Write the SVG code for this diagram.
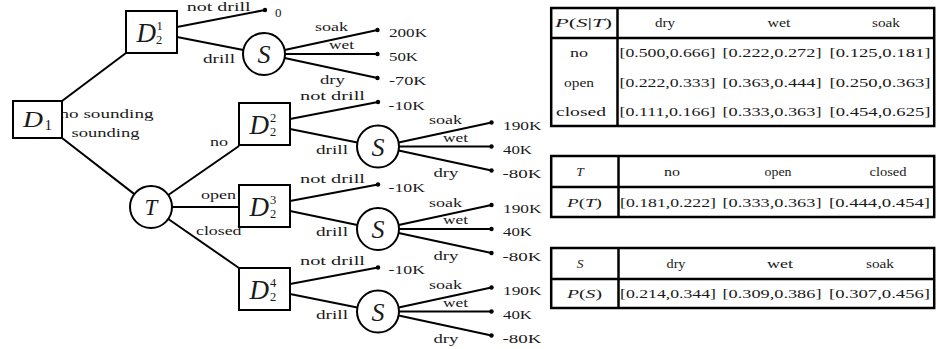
<svg xmlns="http://www.w3.org/2000/svg" width="937" height="349" viewBox="0 0 937 349">
<style>
text { font-family: "Liberation Serif", "Times New Roman", serif; fill: #1a1a1a; }
.lb { font-size: 13px; }
.tb { font-size: 13.5px; }
.m { font-style: italic; }
.big { font-size: 23px; font-style: italic; }
.dd { font-size: 27px; font-style: italic; }
.ss { font-size: 26px; font-style: italic; }
.sup { font-size: 12.5px; }
.box { fill: #fff; stroke: #000; stroke-width: 2; }
.circ { fill: #fff; stroke: #000; stroke-width: 2; }
.edge { stroke: #000; stroke-width: 2; fill: none; }
.dot { fill: #000; }
.tbl { fill: none; stroke: #000; stroke-width: 2.5; }
</style>

<g id="connectors">
  <path class="edge" d="M62,101 L126,53"/>
  <path class="edge" d="M62,138 L134.4,194.1"/>
  <path class="edge" d="M168.3,195 L239,146"/>
  <path class="edge" d="M172,207 L239,207"/>
  <path class="edge" d="M168.3,219 L239,268"/>
  <path class="edge" d="M177,27 L265,10"/>
  <path class="edge" d="M177,37 L243.4,50"/>
  <path class="edge" d="M290,119 L378,102"/>
  <path class="edge" d="M290,129 L357.4,142.4"/>
  <path class="edge" d="M290,201 L378,184.5"/>
  <path class="edge" d="M290,211 L357.4,224.9"/>
  <path class="edge" d="M290,284 L378,267.5"/>
  <path class="edge" d="M290,294 L357.4,307.4"/>
  <path class="edge" d="M284.6,50 L377.5,30 M285,54 L377.5,54 M284.6,58 L377.5,78"/>
  <path class="edge" d="M398.6,142.5 L491.5,122.5 M399,146.5 L491.5,146.5 M398.6,150.5 L491.5,170.5"/>
  <path class="edge" d="M398.6,225 L491.5,205 M399,229 L491.5,229 M398.6,233 L491.5,253"/>
  <path class="edge" d="M398.6,307.5 L491.5,287.5 M399,311.5 L491.5,311.5 M398.6,315.5 L491.5,335.5"/>
</g>

<g id="edge-labels" class="lb">
  <text x="59.5" y="118" textLength="94" lengthAdjust="spacingAndGlyphs">no sounding</text>
  <text x="71.5" y="137" textLength="68" lengthAdjust="spacingAndGlyphs">sounding</text>
  <text x="210" y="145.5" textLength="18" lengthAdjust="spacingAndGlyphs">no</text>
  <text x="201" y="199" textLength="35" lengthAdjust="spacingAndGlyphs">open</text>
  <text x="196" y="234.5" textLength="45.5" lengthAdjust="spacingAndGlyphs">closed</text>

  <text x="186.7" y="11" font-size="12.5" textLength="64" lengthAdjust="spacingAndGlyphs">not drill</text>
  <text x="203" y="63" textLength="32" lengthAdjust="spacingAndGlyphs">drill</text>
  <text x="315" y="31" textLength="33" lengthAdjust="spacingAndGlyphs">soak</text>
  <text x="329" y="48.5" textLength="25" lengthAdjust="spacingAndGlyphs">wet</text>
  <text x="320" y="84" textLength="25" lengthAdjust="spacingAndGlyphs">dry</text>

  <text x="300" y="100" textLength="65" lengthAdjust="spacingAndGlyphs">not drill</text>
  <text x="316" y="154" textLength="32" lengthAdjust="spacingAndGlyphs">drill</text>
  <text x="429" y="124" textLength="33" lengthAdjust="spacingAndGlyphs">soak</text>
  <text x="443" y="141.5" textLength="25" lengthAdjust="spacingAndGlyphs">wet</text>
  <text x="433.5" y="177" textLength="25" lengthAdjust="spacingAndGlyphs">dry</text>

  <text x="300" y="182.5" textLength="65" lengthAdjust="spacingAndGlyphs">not drill</text>
  <text x="316" y="236" textLength="32" lengthAdjust="spacingAndGlyphs">drill</text>
  <text x="429" y="206.5" textLength="33" lengthAdjust="spacingAndGlyphs">soak</text>
  <text x="443" y="224" textLength="25" lengthAdjust="spacingAndGlyphs">wet</text>
  <text x="433.5" y="260" textLength="25" lengthAdjust="spacingAndGlyphs">dry</text>

  <text x="300" y="265" textLength="65" lengthAdjust="spacingAndGlyphs">not drill</text>
  <text x="316" y="318.5" textLength="32" lengthAdjust="spacingAndGlyphs">drill</text>
  <text x="429" y="289" textLength="33" lengthAdjust="spacingAndGlyphs">soak</text>
  <text x="443" y="306.5" textLength="25" lengthAdjust="spacingAndGlyphs">wet</text>
  <text x="433.5" y="342.5" textLength="25" lengthAdjust="spacingAndGlyphs">dry</text>
</g>

<g id="leaves" class="lb">
  <circle class="dot" cx="265" cy="10" r="2.2"/><text x="275" y="17">0</text>
  <circle class="dot" cx="377.5" cy="30" r="2.2"/><text x="389" y="37" textLength="38" lengthAdjust="spacingAndGlyphs">200K</text>
  <circle class="dot" cx="377.5" cy="54" r="2.2"/><text x="389" y="61" textLength="29" lengthAdjust="spacingAndGlyphs">50K</text>
  <circle class="dot" cx="377.5" cy="78" r="2.2"/><text x="389" y="85" textLength="37.5" lengthAdjust="spacingAndGlyphs">-70K</text>

  <circle class="dot" cx="378" cy="102" r="2.2"/><text x="388.5" y="109.5" textLength="36.5" lengthAdjust="spacingAndGlyphs">-10K</text>
  <circle class="dot" cx="491.5" cy="122.5" r="2.2"/><text x="503" y="130" textLength="38.5" lengthAdjust="spacingAndGlyphs">190K</text>
  <circle class="dot" cx="491.5" cy="146.5" r="2.2"/><text x="503" y="154" textLength="29" lengthAdjust="spacingAndGlyphs">40K</text>
  <circle class="dot" cx="491.5" cy="170.5" r="2.2"/><text x="502.5" y="178" textLength="39" lengthAdjust="spacingAndGlyphs">-80K</text>

  <circle class="dot" cx="378" cy="184.5" r="2.2"/><text x="388.5" y="191.5" textLength="36.5" lengthAdjust="spacingAndGlyphs">-10K</text>
  <circle class="dot" cx="491.5" cy="205" r="2.2"/><text x="503" y="212.5" textLength="38.5" lengthAdjust="spacingAndGlyphs">190K</text>
  <circle class="dot" cx="491.5" cy="229" r="2.2"/><text x="503" y="236" textLength="29" lengthAdjust="spacingAndGlyphs">40K</text>
  <circle class="dot" cx="491.5" cy="253" r="2.2"/><text x="502.5" y="260.5" textLength="39" lengthAdjust="spacingAndGlyphs">-80K</text>

  <circle class="dot" cx="378" cy="267.5" r="2.2"/><text x="388.5" y="274" textLength="36.5" lengthAdjust="spacingAndGlyphs">-10K</text>
  <circle class="dot" cx="491.5" cy="287.5" r="2.2"/><text x="503" y="295" textLength="38.5" lengthAdjust="spacingAndGlyphs">190K</text>
  <circle class="dot" cx="491.5" cy="311.5" r="2.2"/><text x="503" y="318.5" textLength="29" lengthAdjust="spacingAndGlyphs">40K</text>
  <circle class="dot" cx="491.5" cy="335.5" r="2.2"/><text x="502.5" y="343" textLength="39" lengthAdjust="spacingAndGlyphs">-80K</text>
</g>

<g id="D1">
  <rect class="box" x="13" y="101" width="49" height="37"/>
  <text class="big" x="23" y="127" textLength="20" lengthAdjust="spacingAndGlyphs">D</text>
  <text x="44.5" y="129.5" font-size="15">1</text>
</g>

<g id="D2-1">
  <rect class="box" x="126" y="11" width="51" height="42"/>
  <text class="dd" x="136.5" y="42" textLength="19.5" lengthAdjust="spacingAndGlyphs">D</text>
  <text class="sup" x="156.5" y="30">1</text>
  <text class="sup" x="156" y="44">2</text>
</g>

<g id="S-1">
  <circle class="circ" cx="264" cy="54" r="21"/>
  <text class="ss" x="264" y="63" text-anchor="middle">S</text>
</g>

<g id="T">
  <circle class="circ" cx="151" cy="207" r="21"/>
  <text class="big" x="151" y="215" text-anchor="middle">T</text>
</g>

<g id="D2-2">
  <rect class="box" x="239" y="103" width="51" height="42"/>
  <text class="dd" x="249.5" y="134" textLength="19.5" lengthAdjust="spacingAndGlyphs">D</text>
  <text class="sup" x="270" y="122">2</text>
  <text class="sup" x="270" y="136">2</text>
</g>

<g id="S-2">
  <circle class="circ" cx="378" cy="146.5" r="21"/>
  <text class="ss" x="378" y="155.5" text-anchor="middle">S</text>
</g>

<g id="D2-3">
  <rect class="box" x="239" y="185" width="51" height="42"/>
  <text class="dd" x="249.5" y="216" textLength="19.5" lengthAdjust="spacingAndGlyphs">D</text>
  <text class="sup" x="270" y="204">3</text>
  <text class="sup" x="270" y="218">2</text>
</g>

<g id="S-3">
  <circle class="circ" cx="378" cy="229" r="21"/>
  <text class="ss" x="378" y="238" text-anchor="middle">S</text>
</g>

<g id="D2-4">
  <rect class="box" x="239" y="268" width="51" height="42"/>
  <text class="dd" x="249.5" y="299" textLength="19.5" lengthAdjust="spacingAndGlyphs">D</text>
  <text class="sup" x="270" y="287">4</text>
  <text class="sup" x="270" y="301">2</text>
</g>

<g id="S-4">
  <circle class="circ" cx="378" cy="311.5" r="21"/>
  <text class="ss" x="378" y="320.5" text-anchor="middle">S</text>
</g>

<g id="table-PST" class="tb">
  <rect class="tbl" x="551.2" y="8" width="383" height="118"/>
  <path class="tbl" d="M551.2,38 H934.2 M617.5,8 V126"/>
  <text x="555" y="27" textLength="57" lengthAdjust="spacingAndGlyphs"><tspan class="m">P</tspan>(<tspan class="m">S</tspan>|<tspan class="m">T</tspan>)</text>
  <text x="665" y="27" text-anchor="middle" textLength="20" lengthAdjust="spacingAndGlyphs">dry</text>
  <text x="779" y="27" text-anchor="middle" textLength="23" lengthAdjust="spacingAndGlyphs">wet</text>
  <text x="886" y="27" text-anchor="middle" textLength="28" lengthAdjust="spacingAndGlyphs">soak</text>
  <text x="579" y="57" text-anchor="middle" textLength="18" lengthAdjust="spacingAndGlyphs">no</text>
  <text x="579" y="86.5" text-anchor="middle" textLength="30" lengthAdjust="spacingAndGlyphs">open</text>
  <text x="581" y="116" text-anchor="middle" textLength="50" lengthAdjust="spacingAndGlyphs">closed</text>
  <text x="619.5" y="57" textLength="96" lengthAdjust="spacingAndGlyphs">[0.500,0.666]</text>
  <text x="722.5" y="57" textLength="99" lengthAdjust="spacingAndGlyphs">[0.222,0.272]</text>
  <text x="829.5" y="57" textLength="101" lengthAdjust="spacingAndGlyphs">[0.125,0.181]</text>
  <text x="619.5" y="86.5" textLength="96" lengthAdjust="spacingAndGlyphs">[0.222,0.333]</text>
  <text x="722.5" y="86.5" textLength="99" lengthAdjust="spacingAndGlyphs">[0.363,0.444]</text>
  <text x="829.5" y="86.5" textLength="101" lengthAdjust="spacingAndGlyphs">[0.250,0.363]</text>
  <text x="619.5" y="116" textLength="96" lengthAdjust="spacingAndGlyphs">[0.111,0.166]</text>
  <text x="722.5" y="116" textLength="99" lengthAdjust="spacingAndGlyphs">[0.333,0.363]</text>
  <text x="829.5" y="116" textLength="101" lengthAdjust="spacingAndGlyphs">[0.454,0.625]</text>
</g>

<g id="table-PT" class="tb">
  <rect class="tbl" x="551.2" y="156" width="383" height="61"/>
  <path class="tbl" d="M551.2,187 H934.2 M618.5,156 V217"/>
  <text class="m" x="580" y="176" text-anchor="middle">T</text>
  <text x="672" y="176" text-anchor="middle" textLength="16" lengthAdjust="spacingAndGlyphs">no</text>
  <text x="778" y="176" text-anchor="middle" textLength="27" lengthAdjust="spacingAndGlyphs">open</text>
  <text x="888" y="176" text-anchor="middle" textLength="37" lengthAdjust="spacingAndGlyphs">closed</text>
  <text x="567" y="206.5" textLength="35" lengthAdjust="spacingAndGlyphs"><tspan class="m">P</tspan>(<tspan class="m">T</tspan>)</text>
  <text x="620" y="206.5" textLength="96" lengthAdjust="spacingAndGlyphs">[0.181,0.222]</text>
  <text x="722.5" y="206.5" textLength="99" lengthAdjust="spacingAndGlyphs">[0.333,0.363]</text>
  <text x="829" y="206.5" textLength="101" lengthAdjust="spacingAndGlyphs">[0.444,0.454]</text>
</g>

<g id="table-PS" class="tb">
  <rect class="tbl" x="551.2" y="248" width="383" height="60"/>
  <path class="tbl" d="M551.2,279 H934.2 M618.5,248 V308"/>
  <text class="m" x="580" y="268" text-anchor="middle">S</text>
  <text x="676" y="268" text-anchor="middle" textLength="19" lengthAdjust="spacingAndGlyphs">dry</text>
  <text x="780" y="268" text-anchor="middle" textLength="26" lengthAdjust="spacingAndGlyphs">wet</text>
  <text x="880" y="268" text-anchor="middle" textLength="28" lengthAdjust="spacingAndGlyphs">soak</text>
  <text x="567" y="298" textLength="35" lengthAdjust="spacingAndGlyphs"><tspan class="m">P</tspan>(<tspan class="m">S</tspan>)</text>
  <text x="620" y="298" textLength="96" lengthAdjust="spacingAndGlyphs">[0.214,0.344]</text>
  <text x="722.5" y="298" textLength="99" lengthAdjust="spacingAndGlyphs">[0.309,0.386]</text>
  <text x="829" y="298" textLength="101" lengthAdjust="spacingAndGlyphs">[0.307,0.456]</text>
</g>
</svg>
